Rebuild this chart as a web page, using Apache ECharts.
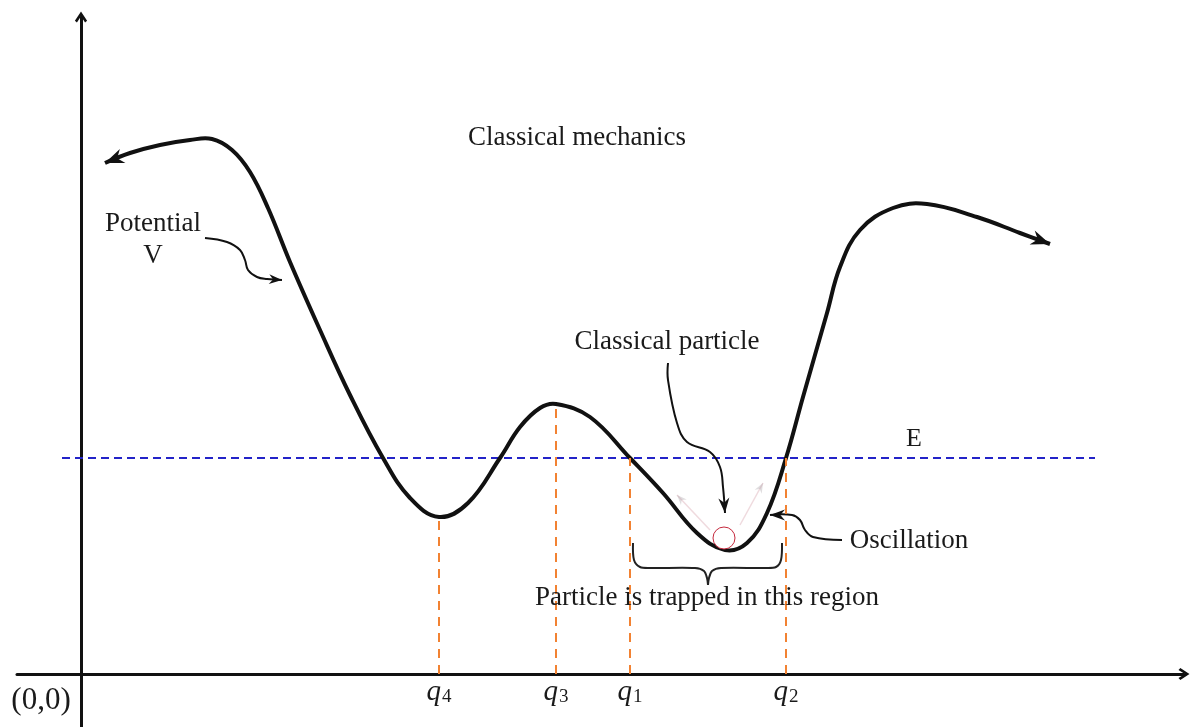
<!DOCTYPE html>
<html>
<head>
<meta charset="utf-8">
<title>Classical mechanics</title>
<script src="https://cdn.jsdelivr.net/npm/echarts@6/dist/echarts.min.js"></script>
<style>
	html, body { margin: 0; padding: 0; background: #fff; }
	#chart { width: 1192px; height: 727px; }
</style>
</head>
<body>
<div id="chart"></div>
<script>
	// potential V(q), diagram units, origin at (0,0)
	var curveX = [0.24, 0.49, 0.79, 1.09, 1.31, 1.51, 1.69, 1.87, 2.09, 2.39, 2.69, 3.02, 3.29, 3.58, 3.87, 4.19, 4.39, 4.59, 4.75, 5.09, 5.49, 5.82, 6.16, 6.44, 6.66, 6.86, 7.05, 7.22, 7.46, 7.59, 7.79, 8.12, 8.46, 8.96, 9.39, 9.69];
	var curveY = [5.11, 5.21, 5.29, 5.34, 5.35, 5.24, 5.02, 4.66, 4.12, 3.44, 2.79, 2.16, 1.76, 1.57, 1.71, 2.16, 2.47, 2.66, 2.70, 2.57, 2.16, 1.81, 1.41, 1.24, 1.31, 1.61, 2.16, 2.77, 3.61, 4.07, 4.44, 4.66, 4.70, 4.57, 4.41, 4.30];

	// energy level E
	var energy = 2.16;
	var energyFrom = -0.19;
	var energyTo = 10.14;

	// turning points / extrema on the q axis
	var qNames = ['4', '3', '1', '2'];
	var qX = [3.58, 4.75, 5.49, 7.05];
	var qV = [1.57, 2.70, 2.16, 2.16];

	// the particle in the well
	var particle = [6.43, 1.36];

	// annotation arrows (last point = tip)
	var potentialArrow = [[1.24, 4.36], [1.46, 4.32], [1.59, 4.24], [1.64, 4.14], [1.67, 4.04], [1.76, 3.97], [1.86, 3.95], [2.01, 3.94]];
	var particleArrow = [[5.87, 3.11], [5.87, 2.94], [5.96, 2.51], [6.06, 2.32], [6.29, 2.22], [6.39, 2.07], [6.42, 1.87], [6.44, 1.61]];
	var oscArrow = [[7.61, 1.34], [7.32, 1.37], [7.24, 1.44], [7.19, 1.54], [7.11, 1.59], [6.89, 1.59]];
	var swingLeft = [[6.29, 1.44], [5.96, 1.79]];
	var swingRight = [[6.59, 1.49], [6.82, 1.91]];

	// brace under the trapped region
	var braceLeft = [[5.52, 1.31], [5.53, 1.14], [5.59, 1.07], [5.69, 1.06], [6.14, 1.06], [6.23, 1.03], [6.26, 0.96], [6.27, 0.89]];
	var braceRight = [[6.27, 0.89], [6.28, 0.96], [6.31, 1.03], [6.40, 1.06], [6.84, 1.06], [6.95, 1.07], [7.00, 1.14], [7.01, 1.31]];

	var ink = '#111';
	var serif = '"Liberation Serif", "DejaVu Serif", serif';
	var stealth = 'path://M6,0 L12,16 L6,11 L0,16 Z';
	var chevron = 'path://M6,0 L12,9 L10,10.8 L6,4.6 L2,10.8 L0,9 Z';

	// arrow head sitting on the last point, turned along the last segment
	// (both axes use 100 px per unit, so data angle = screen angle)
	function head(pts, size) {
		var a = pts[pts.length - 2], b = pts[pts.length - 1];
		var dx = b[0] - a[0], dy = -(b[1] - a[1]);
		var len = Math.sqrt(dx * dx + dy * dy);
		dx /= len; dy /= len;
		return {
			value: b,
			symbolSize: size,
			symbolRotate: Math.atan2(-dx, -dy) * 180 / Math.PI,
			symbolOffset: [-dx * size[1] / 2, -dy * size[1] / 2]
		};
	}

	var curve = curveX.map(function (x, i) { return [x, curveY[i]]; });

	// a smooth stroke through the points, drawn once with zrender's bezier smoothing
	function stroke(name, pts, color, width, smooth, z) {
		return {
			name: name, type: 'custom', coordinateSystem: 'cartesian2d',
			data: pts, silent: true, z: z || 3, clip: false,
			encode: { x: 0, y: 1 },
			renderItem: function (params, api) {
				if (params.dataIndex !== 0) return null;
				return {
					type: 'polyline',
					shape: { points: pts.map(function (p) { return api.coord(p); }), smooth: smooth },
					style: { stroke: color, lineWidth: width, fill: null, lineJoin: 'round', lineCap: 'butt' }
				};
			}
		};
	}

	function txt(text, x, y, size) {
		return {
			type: 'text', silent: true, z: 10,
			style: {
				text: text, x: x, y: y, fill: '#1a1a1a',
				font: size + 'px ' + serif,
				align: 'center', verticalAlign: 'middle',
				textAlign: 'center', textVerticalAlign: 'middle'
			}
		};
	}

	var myChart = echarts.init(document.getElementById('chart'));
	var option = {
		animation: false,
		grid: { left: 17, right: 8, top: 17, bottom: 0, containLabel: false, outerBoundsMode: 'none' },
		xAxis: {
			type: 'value', min: -0.64, max: 11.03,
			splitLine: { show: false },
			axisTick: { show: false },
			axisLabel: { show: false },
			axisLine: {
				onZero: true,
				symbol: ['none', chevron], symbolSize: [13, 11],
				lineStyle: { color: ink, width: 3 }
			}
		},
		yAxis: {
			type: 'value', min: -0.53, max: 6.57,
			splitLine: { show: false },
			axisTick: { show: false },
			axisLabel: { show: false },
			axisLine: {
				onZero: true,
				symbol: ['none', chevron], symbolSize: [13, 11],
				lineStyle: { color: ink, width: 3 }
			}
		},
		series: [
			stroke('V', curve, ink, 4, 0.4, 4),
			{
				name: 'q-lines', type: 'line', data: [], silent: true,
				markLine: {
					silent: true, symbol: 'none', animation: false,
					label: { show: false },
					lineStyle: { color: '#f28232', width: 2, type: [9, 7] },
					data: qX.map(function (x, i) {
						return [{ coord: [x, 0] }, { coord: [x, qV[i]] }];
					})
				}
			},
			{
				name: 'E', type: 'line', data: [[energyFrom, energy], [energyTo, energy]],
				showSymbol: false, silent: true, z: 2,
				lineStyle: { color: '#2323c8', width: 2, type: [8, 5] }
			},
			{
				name: 'q-labels', type: 'scatter', symbolSize: 0, silent: true,
				itemStyle: { opacity: 1 },
				data: qX.map(function (x, i) { return { value: [x, 0], name: qNames[i] }; }),
				label: {
					show: true, position: 'bottom', distance: 4, opacity: 1,
					formatter: function (p) { return '{q|q}{s|' + p.name + '}'; },
					rich: {
						q: { fontSize: 29, lineHeight: 29, fontStyle: 'italic', fontFamily: serif, color: '#1a1a1a' },
						s: { fontSize: 19, lineHeight: 19, verticalAlign: 'bottom', fontFamily: serif, color: '#1a1a1a', padding: [0, 0, 0, 1] }
					}
				}
			},
			stroke('potential-arrow', potentialArrow, ink, 2, 0.4),
			stroke('particle-arrow', particleArrow, ink, 2, 0.4),
			stroke('osc-arrow', oscArrow, ink, 2, 0.4),
			stroke('swing-left', swingLeft, 'rgba(210,150,160,0.35)', 1.5, 0),
			stroke('swing-right', swingRight, 'rgba(210,150,160,0.35)', 1.5, 0),
			stroke('brace-left', braceLeft, '#222', 2, 0.3),
			stroke('brace-right', braceRight, '#222', 2, 0.3),
			{
				name: 'heads', type: 'scatter', symbol: stealth, silent: true, z: 6,
				itemStyle: { color: ink, opacity: 1 },
				data: [
					head(curve.slice(0, 2).reverse(), [15, 19]),
					head(curve.slice(-2), [15, 19]),
					head(potentialArrow, [10, 13]),
					head(particleArrow, [11, 15]),
					head(oscArrow, [11, 15])
				]
			},
			{
				name: 'faint-heads', type: 'scatter', symbol: stealth, silent: true, z: 5,
				itemStyle: { color: 'rgba(170,160,165,0.45)' },
				data: [head(swingLeft, [8, 10]), head(swingRight, [8, 10])]
			},
			{
				name: 'particle', type: 'scatter', data: [particle], symbol: 'circle', symbolSize: 22,
				silent: true, z: 7,
				itemStyle: { color: '#fff', borderColor: '#c4283c', borderWidth: 1, opacity: 1 }
			}
		],
		graphic: [
			txt('Classical mechanics', 577, 138, 27),
			txt('Potential', 153, 224, 27),
			txt('V', 153, 256, 27),
			txt('Classical particle', 667, 342, 27),
			txt('E', 914, 439, 26),
			txt('Oscillation', 909, 541, 27),
			txt('Particle is trapped in this region', 707, 598, 27),
			txt('(0,0)', 41, 701, 31)
		]
	};
	myChart.setOption(option);
</script>
</body>
</html>
